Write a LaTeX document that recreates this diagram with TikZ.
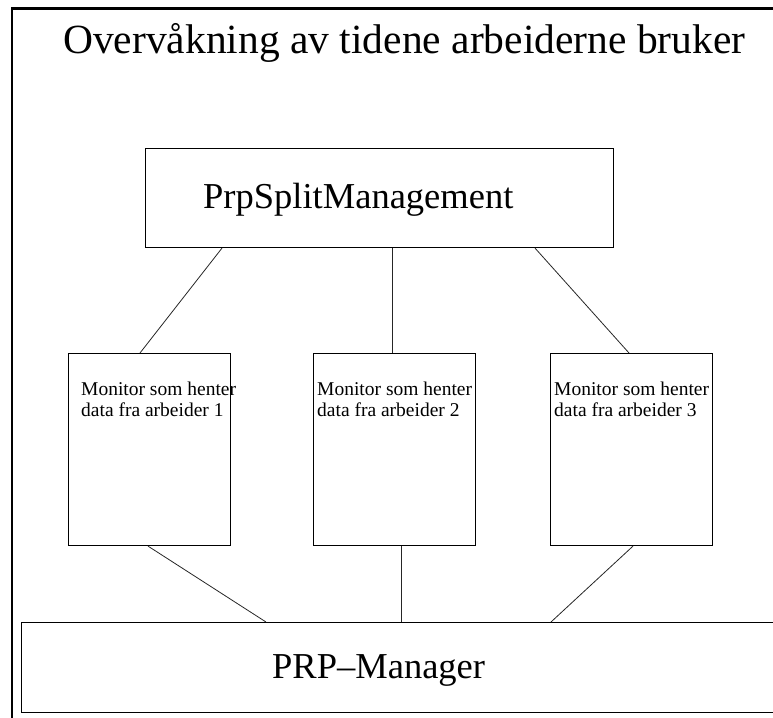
\documentclass[tikz,border=0pt]{standalone}
\usepackage{fontspec}
\setmainfont{Liberation Serif}
\begin{document}
\begin{tikzpicture}[x=1pt,y=-1pt,
  box/.style={draw=black,line width=1.1pt,inner sep=0pt,anchor=north west},
  conn/.style={draw=black!85,line width=0.8pt},
  lbl/.style={inner sep=0pt,anchor=base west,align=left},
  small/.style={font=\fontsize{19.5}{21}\selectfont},
  big/.style={font=\fontsize{36.5}{40}\selectfont}]
\useasboundingbox (0,0) rectangle (773,717);
\clip (0,0) rectangle (773,717);
% outer frame
\draw[line width=2.6pt] (12,760) -- (12,8.5) -- (820,8.5);
% title
\node[lbl,font=\fontsize{41.5}{45}\selectfont] (title) at (63,53) {Overvåkning av tidene arbeiderne bruker};
% top box
\node[box,minimum width=468pt,minimum height=99pt] (top) at (145,148) {};
\node[lbl,big] (toptext) at (203,208) {PrpSplitManagement};
% monitor boxes
\node[box,minimum width=162pt,minimum height=192pt] (m1) at (68,353) {};
\node[box,minimum width=162pt,minimum height=192pt] (m2) at (313,353) {};
\node[box,minimum width=162pt,minimum height=192pt] (m3) at (550,353) {};
\node[lbl,small] (t1) at (81,416) {Monitor som henter\\data fra arbeider 1};
\node[lbl,small] (t2) at (317,416) {Monitor som henter\\data fra arbeider 2};
\node[lbl,small] (t3) at (554,416) {Monitor som henter\\data fra arbeider 3};
% bottom box
\node[box,minimum width=800pt,minimum height=90pt] (bot) at (21,622) {};
\node[lbl,big] (bottext) at (272,678) {PRP–Manager};
% connectors
\draw[conn] (top.south -| 222,0) -- (m1.north -| 140,0);
\draw[conn] (top.south -| 392,0) -- (m2.north -| 392,0);
\draw[conn] (top.south -| 535,0) -- (m3.north -| 629,0);
\draw[conn] (m1.south -| 148,0) -- (bot.north -| 266,0);
\draw[conn] (m2.south -| 401,0) -- (bot.north -| 401,0);
\draw[conn] (m3.south -| 633,0) -- (bot.north -| 551,0);
\end{tikzpicture}
\end{document}
